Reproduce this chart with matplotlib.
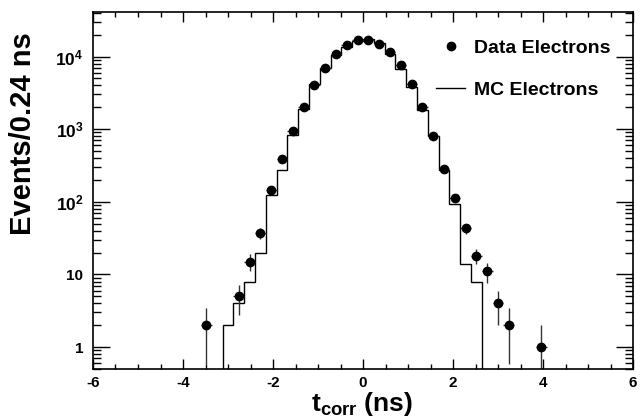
import numpy as np
import matplotlib
matplotlib.use("Agg")
import matplotlib.pyplot as plt
from matplotlib.ticker import FixedLocator, MultipleLocator, NullFormatter
from matplotlib.lines import Line2D

# Histogram binning: 50 bins of 0.24 ns from -6 to 6
bin_edges = np.linspace(-6, 6, 51)

# Data electrons, counts per bin
data_counts = [
    0, 0, 0, 0, 0, 0, 0, 0, 0, 0,
    2, 0, 0, 5, 15, 37, 145, 385, 944, 2040,
    4070, 6900, 10800, 14500, 17000, 17000, 14800, 11700, 7700, 4200,
    2000, 813, 280, 112, 43, 18, 11, 4, 2, 0,
    0, 1, 0, 0, 0, 0, 0, 0, 0, 0,
]

# MC electrons, counts per bin
mc_counts = [
    0, 0, 0, 0, 0, 0, 0, 0, 0, 0,
    0, 0, 2, 4, 8, 20, 124, 274, 832, 1900,
    4150, 6950, 10400, 13700, 16300, 17200, 15300, 10900, 6800, 3750,
    1860, 813, 274, 92, 14, 8, 0, 0, 0, 0,
    0, 0, 0, 0, 0, 0, 0, 0, 0, 0,
]

y_ticks = [1, 10, 100, 1000, 10000]
y_tick_labels = ["1", "10", r"$\mathbf{10^{2}}$", r"$\mathbf{10^{3}}$", r"$\mathbf{10^{4}}$"]
x_ticks = [-6, -4, -2, 0, 2, 4, 6]

plt.rcParams["font.family"] = ["Liberation Sans", "DejaVu Sans"]
plt.rcParams["font.weight"] = "bold"
plt.rcParams["mathtext.fontset"] = "custom"
plt.rcParams["mathtext.rm"] = "Liberation Sans:bold"
plt.rcParams["mathtext.bf"] = "Liberation Sans:bold"
plt.rcParams["mathtext.it"] = "Liberation Sans:bold"

data = np.array(data_counts, dtype=float)
mc = np.array(mc_counts, dtype=float)
centers = 0.5 * (bin_edges[:-1] + bin_edges[1:])
half_width = 0.5 * (bin_edges[1] - bin_edges[0])

fig = plt.figure(figsize=(6.44, 4.19), dpi=100)
ax = fig.add_axes([0.1444, 0.1193, 0.8386, 0.8521])

ymin, ymax = 0.5, 4.1e4

# MC histogram (only the non-empty range, dropped to the axis floor at the ends)
nz = np.nonzero(mc)[0]
lo, hi = nz[0], nz[-1] + 1
ax.stairs(mc[lo:hi], bin_edges[lo:hi + 1], baseline=ymin * 0.9,
          color="black", linewidth=1.0)

# Data points with Poisson errors
sel = data > 0
err = np.sqrt(data[sel])
lower = np.minimum(err, data[sel] - ymin * 0.9)
ax.errorbar(centers[sel], data[sel], yerr=[lower, err], xerr=half_width,
            fmt="o", color="black", markersize=6, elinewidth=1.0,
            capsize=0, ecolor="#333333")

ax.set_yscale("log")
ax.set_xlim(-6, 6)
ax.set_ylim(ymin, ymax)

ax.xaxis.set_major_locator(FixedLocator(x_ticks))
ax.xaxis.set_minor_locator(MultipleLocator(0.5))
ax.set_xticklabels([str(t) for t in x_ticks])
ax.yaxis.set_major_locator(FixedLocator(y_ticks))
minor_y = [m * 10 ** e for e in range(-1, 5) for m in range(2, 10)]
ax.yaxis.set_minor_locator(FixedLocator(minor_y))
ax.yaxis.set_minor_formatter(NullFormatter())
ax.set_yticklabels(y_tick_labels)

ax.tick_params(which="both", direction="in", top=True, right=True, labelsize=11)
ax.tick_params(axis="x", which="major", length=7, width=1.0, pad=5)
ax.tick_params(axis="x", which="minor", length=3.6, width=1.0)
ax.tick_params(axis="y", which="major", length=12, width=1.0, pad=7)
ax.tick_params(axis="y", which="minor", length=6, width=1.0)
for lab in ax.get_yticklabels():
    if "^" in lab.get_text():
        lab.set_fontsize(12.5)
for spine in ax.spines.values():
    spine.set_linewidth(1.2)

ax.set_xlabel(r"$\mathbf{t_{corr}}$ (ns)", fontsize=19, fontweight="bold", loc="right")
ax.xaxis.set_label_coords(0.593, -0.06)
ax.set_ylabel("Events/0.24 ns", fontsize=21, fontweight="bold", loc="top")
ax.yaxis.set_label_coords(-0.104, 0.944)

handles = [
    Line2D([], [], marker="o", linestyle="none", color="black", markersize=6),
    Line2D([], [], color="black", linewidth=1.0),
]
ax.legend(handles, ["Data Electrons", "MC Electrons"], loc="upper left",
          bbox_to_anchor=(0.636, 0.923), frameon=False, fontsize=14,
          handlelength=1.45, handletextpad=0.5, labelspacing=1.26,
          borderpad=0, borderaxespad=0)

fig.savefig("out.png", dpi=100)
